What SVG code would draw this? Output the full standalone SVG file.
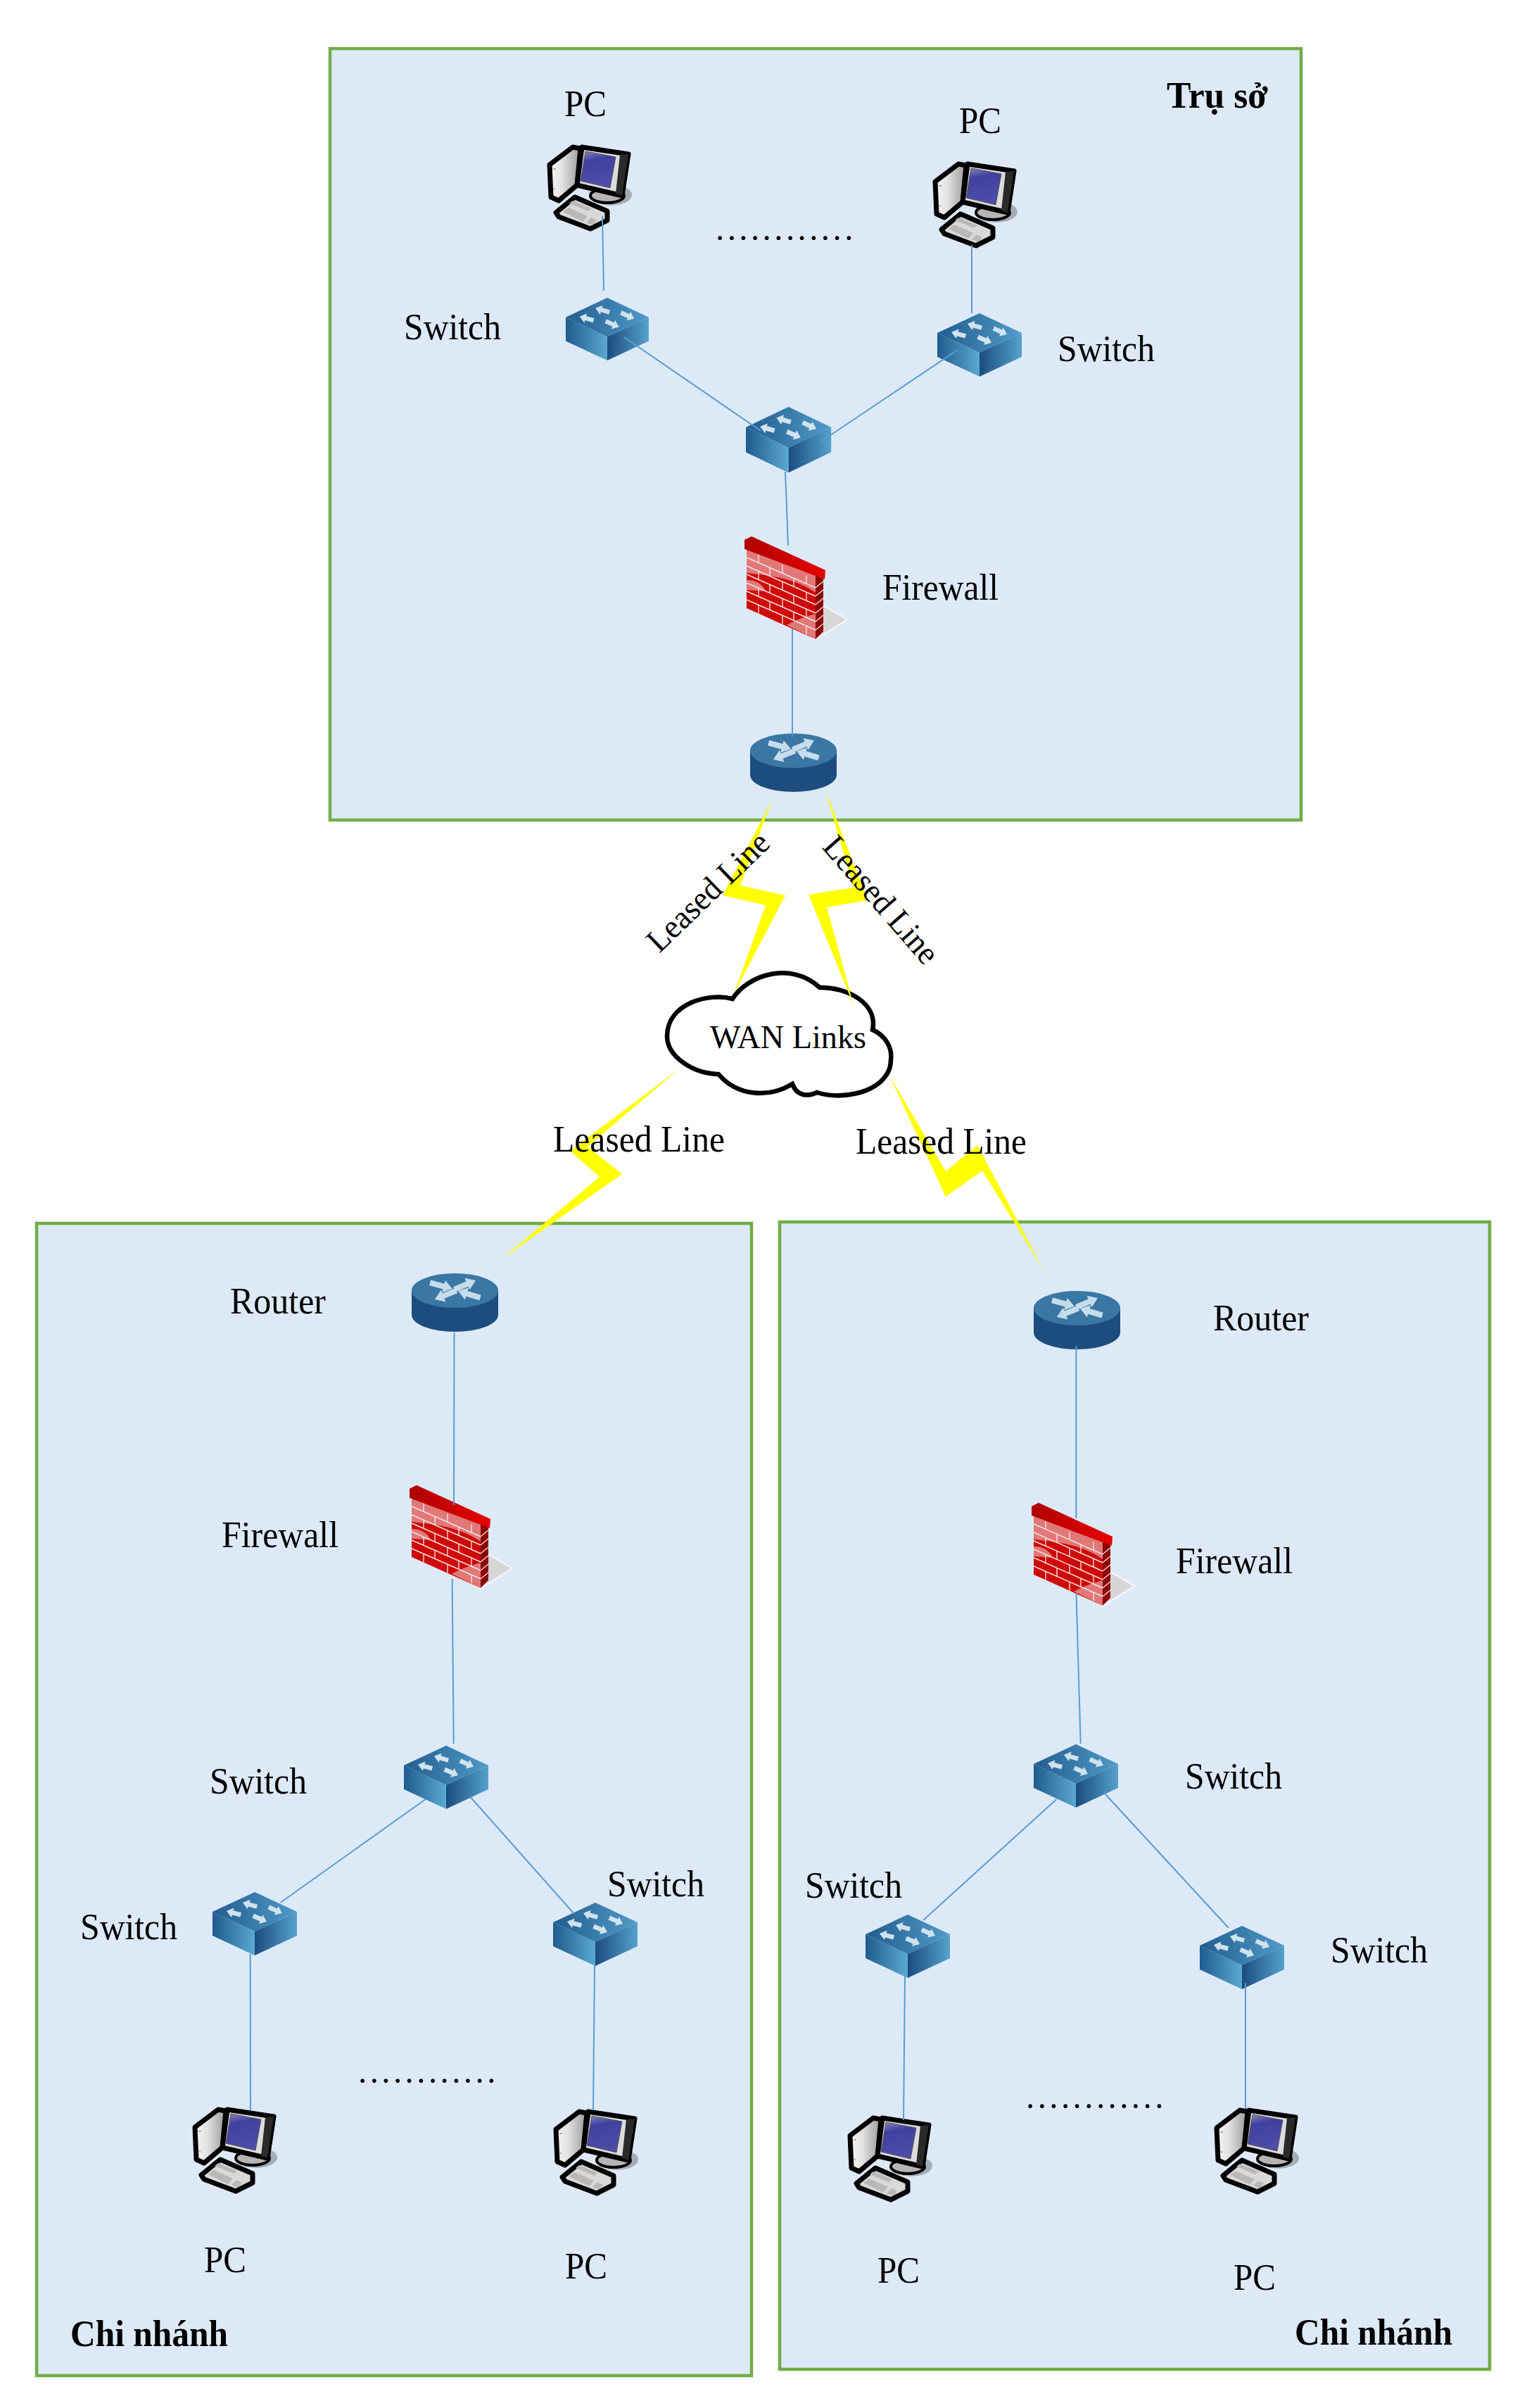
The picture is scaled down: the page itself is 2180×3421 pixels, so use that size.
<svg xmlns="http://www.w3.org/2000/svg" xmlns:xlink="http://www.w3.org/1999/xlink" width="2180" height="3421" viewBox="0 0 2180 3421">
<style>
.site{fill:#dde9f6;stroke:#70ad47;stroke-width:4.5}
.lan{stroke:#5b9bd5;stroke-width:2;fill:none}
.bolt{fill:#ffff00;stroke:none}
.t{font-family:"Liberation Serif","Times New Roman",serif;font-size:52px;fill:#000}
.b{font-weight:bold}
.r{font-size:47px}
.dots{font-size:49px;letter-spacing:4.4px}
</style>
<defs>
<linearGradient id="swTop" x1="0" y1="0" x2="1" y2="0"><stop offset="0" stop-color="#235d8f"/><stop offset="1" stop-color="#4f9ac8"/></linearGradient>
<linearGradient id="swL" x1="0" y1="0" x2="1" y2="0"><stop offset="0" stop-color="#1f5c8f"/><stop offset="1" stop-color="#5ba8d0"/></linearGradient>
<linearGradient id="swR" x1="0" y1="0" x2="1" y2="0"><stop offset="0" stop-color="#1b4c80"/><stop offset="1" stop-color="#55a2cc"/></linearGradient>
<linearGradient id="capG" x1="0" y1="0" x2="1" y2="0"><stop offset="0" stop-color="#b00000"/><stop offset="1" stop-color="#e60000"/></linearGradient>
<linearGradient id="towG" x1="0" y1="0" x2="1" y2="0"><stop offset="0" stop-color="#f6f6f6"/><stop offset="0.4" stop-color="#e2e2e2"/><stop offset="1" stop-color="#989898"/></linearGradient>
<linearGradient id="scrG" x1="0" y1="0" x2="0.2" y2="1"><stop offset="0" stop-color="#8a8ab8"/><stop offset="0.3" stop-color="#4040a0"/><stop offset="1" stop-color="#4d4da8"/></linearGradient>
<path id="arS" d="M0 0L9-7V-3.2H21V3.2H9V7Z" fill="#cfe2ee"/>
<path id="arR" d="M0 0L13-9V-4H33V4H13V9Z" fill="#c5dcec"/>
<g id="switch">
<polygon points="60,0 120,28 60,56 0,28" fill="url(#swTop)"/>
<polygon points="0,28 60,56 60,90 0,62" fill="url(#swL)"/>
<polygon points="60,56 120,28 120,62 60,90" fill="url(#swR)"/>
<use href="#arS" transform="translate(43,15) rotate(16)"/>
<use href="#arS" transform="translate(99,30) rotate(204)"/>
<use href="#arS" transform="translate(20,27) rotate(15)"/>
<use href="#arS" transform="translate(77,42) rotate(203)"/>
</g>
<g id="router">
<path d="M0 24V59A61.5 24 0 0 0 123 59V24Z" fill="#1c4d7e"/>
<ellipse cx="61.5" cy="24.5" rx="61.5" ry="24.5" fill="#3a77a3"/>
<use href="#arR" transform="translate(58,22) rotate(195)"/>
<use href="#arR" transform="translate(91,10) rotate(157)"/>
<use href="#arR" transform="translate(33,37) rotate(-22)"/>
<use href="#arR" transform="translate(66,25) rotate(17)"/>
</g>
<g id="firewall">
<polygon points="112,98 146,118 101,147 90,140" fill="#d6d6d6" stroke="#f4f6f8" stroke-width="2.5" stroke-linejoin="round"/>
<polygon points="3,18 101,56 101,146 3,102" fill="#cf0808"/>
<path d="M3 18L101 56V80C72 60 40 56 3 52ZM3 62C16 62 26 68 30 78L3 76ZM60 126C74 118 88 114 101 110V146Z" fill="#e07878"/>
<polygon points="101,56 112,56 112,135 101,146" fill="#8c0000"/>
<g stroke="#f6e0e0" stroke-width="1.4" fill="none">
<path d="M3 30L101 73M3 42L101 85M3 54L101 97M3 66L101 109M3 78L101 121M3 90L101 133"/>
<path d="M101 73L112 64M101 85L112 76M101 97L112 88M101 109L112 100M101 121L112 112M101 133L112 124"/>
<path d="M20 25.5V37.5M54 40.4V52.4M88 55.4V67.4M36 44.5V56.5M70 59.5V71.5M20 49.5V61.5M54 64.4V76.4M88 79.4V91.4M36 68.5V80.5M70 83.5V95.5M20 73.5V85.5M54 88.4V100.4M88 103.4V115.4M36 92.5V104.5M70 107.5V119.5M20 97.5V109.5M54 112.4V124.4M88 127.4V139.4"/>
</g>
<polygon points="0,5 10,0 115,48 114,61 0,18" fill="url(#capG)"/>
</g>
<g id="pc">
<ellipse cx="90" cy="72" rx="30" ry="15" fill="#a3adb8"/>
<ellipse cx="85" cy="73" rx="24" ry="10" fill="#b5b5b5" stroke="#000" stroke-width="4"/>
<polygon points="3,29 36,4 47,6 42,58 16,80 5,75" fill="url(#towG)" stroke="#000" stroke-width="7" stroke-linejoin="round"/>
<polygon points="49,4 115,14 106,73 42,58" fill="#dcdcdc" stroke="#000" stroke-width="7" stroke-linejoin="round"/>
<polygon points="103,15 115,14 106,73 97,70" fill="#2a2a2a"/>
<polygon points="54,10 97,18 89,62 47,52" fill="url(#scrG)" stroke="#555" stroke-width="1"/>
<polygon points="12,97 39,75 85,95 85,108 61,120 16,103" fill="#d9d9d9" stroke="#000" stroke-width="7" stroke-linejoin="round"/>
<polygon points="36,80 63,91 58,95 31,84" fill="#b8b8b8"/>
<polygon points="22,96 30,90 57,102 50,110" fill="#b8b8b8"/>
<polygon points="55,111 62,104 70,108 64,115" fill="#b8b8b8"/>
<ellipse cx="10" cy="35" rx="2" ry="1" fill="#999"/>
<circle cx="10" cy="63" r="1.3" fill="#aaa"/>
</g>
</defs>
<rect width="2180" height="3421" fill="#fff"/>
<g id="sites">
<rect id="site-hq" class="site" x="469" y="69" width="1380" height="1096"/>
<rect id="site-branch-left" class="site" x="52" y="1738" width="1016" height="1637"/>
<rect id="site-branch-right" class="site" x="1108" y="1736" width="1009" height="1630"/>
</g>
<g id="nodes">
<g id="hq-pc1"><use href="#pc" transform="translate(778,205)"/></g>
<g id="hq-pc2"><use href="#pc" transform="translate(1326,229)"/></g>
<g id="hq-sw1"><use href="#switch" transform="translate(804,423) scale(.983,.99)"/></g>
<g id="hq-sw2"><use href="#switch" transform="translate(1060,578) scale(1.01,1.04)"/></g>
<g id="hq-sw3"><use href="#switch" transform="translate(1332,445)"/></g>
<g id="hq-fw"><use href="#firewall" transform="translate(1058,762)"/></g>
<g id="hq-router"><use href="#router" transform="translate(1066,1042)"/></g>
<g id="wan-cloud">
<path d="M1041 1419C1063 1385 1123 1365 1165 1403C1203 1402 1248 1425 1240 1463C1260 1472 1268 1490 1266 1505C1266 1512 1264 1520 1261 1525C1243 1555 1193 1562 1161 1552C1148 1558 1133 1558 1126 1540C1093 1560 1048 1558 1021 1526C983 1525 948 1500 948 1472C948 1425 1008 1410 1041 1419Z" fill="#fff" stroke="#000" stroke-width="6.5"/>
<text class="t r" x="1009" y="1489" textLength="222" lengthAdjust="spacingAndGlyphs">WAN Links</text>
</g>
<g id="bl-router"><use href="#router" transform="translate(585,1809)"/></g>
<g id="bl-fw"><use href="#firewall" transform="translate(582,2110)"/></g>
<g id="bl-sw1"><use href="#switch" transform="translate(574,2480)"/></g>
<g id="bl-sw2"><use href="#switch" transform="translate(302,2688)"/></g>
<g id="bl-sw3"><use href="#switch" transform="translate(786,2703)"/></g>
<g id="bl-pc1"><use href="#pc" transform="translate(274,2993)"/></g>
<g id="bl-pc2"><use href="#pc" transform="translate(787,2996)"/></g>
<g id="br-router"><use href="#router" transform="translate(1469,1834)"/></g>
<g id="br-fw"><use href="#firewall" transform="translate(1466,2135)"/></g>
<g id="br-sw1"><use href="#switch" transform="translate(1469,2478)"/></g>
<g id="br-sw2"><use href="#switch" transform="translate(1230,2720)"/></g>
<g id="br-sw3"><use href="#switch" transform="translate(1705,2736)"/></g>
<g id="br-pc1"><use href="#pc" transform="translate(1205,3005)"/></g>
<g id="br-pc2"><use href="#pc" transform="translate(1726,2994)"/></g>
</g>
<g id="connectors">
<path class="lan" d="M856 307L858 413"/>
<path class="lan" d="M887 479L1081 612"/>
<path class="lan" d="M1167 627L1361 497"/>
<path class="lan" d="M1381 348V445"/>
<path class="lan" d="M1116 670L1120 775"/>
<path class="lan" d="M1126 893V1045"/>
<path class="lan" d="M645.5 1893L645 2138"/>
<path class="lan" d="M642.6 2243L644.7 2477"/>
<path class="lan" d="M605 2556L398.5 2703"/>
<path class="lan" d="M668.5 2553L816 2719"/>
<path class="lan" d="M355.7 2776L356 2998"/>
<path class="lan" d="M845 2792L843 2998"/>
<path class="lan" d="M1529.4 1912V2157"/>
<path class="lan" d="M1529.4 2263L1535.7 2477"/>
<path class="lan" d="M1501.6 2556L1312 2728"/>
<path class="lan" d="M1569 2547L1746 2739"/>
<path class="lan" d="M1286 2808L1284 3012"/>
<path class="lan" d="M1770 2817V2996"/>
<polygon class="bolt" points="1097,1137 1027,1272 1088,1286 1043,1412 1116,1272 1052,1258"/>
<polygon class="bolt" points="1173,1123 1233,1279 1175,1289 1213,1428 1149,1271 1213,1261"/>
<polygon class="bolt" points="966,1518 810,1635 852,1672 715,1787 884,1668 835,1629"/>
<polygon class="bolt" points="1264,1528 1344,1700 1396,1663 1483,1804 1389,1627 1344,1664"/>
</g>
<g id="labels">
<text class="t" x="802" y="165" textLength="60" lengthAdjust="spacingAndGlyphs">PC</text>
<text class="t" x="1363" y="189" textLength="60" lengthAdjust="spacingAndGlyphs">PC</text>
<text class="t b" x="1658" y="153" textLength="144" lengthAdjust="spacingAndGlyphs">Trụ sở</text>
<text class="t" x="574" y="482" textLength="138" lengthAdjust="spacingAndGlyphs">Switch</text>
<text class="t" x="1503" y="513" textLength="138" lengthAdjust="spacingAndGlyphs">Switch</text>
<text class="t" x="1254" y="852" textLength="165" lengthAdjust="spacingAndGlyphs">Firewall</text>
<text class="t dots" x="1017" y="341">............</text>
<text class="t r" transform="translate(937,1355) rotate(-44)" textLength="222" lengthAdjust="spacingAndGlyphs">Leased Line</text>
<text class="t r" transform="translate(1167,1204) rotate(49)" textLength="224" lengthAdjust="spacingAndGlyphs">Leased Line</text>
<text class="t" x="786" y="1636" textLength="244" lengthAdjust="spacingAndGlyphs">Leased Line</text>
<text class="t" x="1216" y="1639" textLength="243" lengthAdjust="spacingAndGlyphs">Leased Line</text>
<text class="t" x="327" y="1866" textLength="136" lengthAdjust="spacingAndGlyphs">Router</text>
<text class="t" x="315" y="2198" textLength="166" lengthAdjust="spacingAndGlyphs">Firewall</text>
<text class="t" x="298" y="2548" textLength="138" lengthAdjust="spacingAndGlyphs">Switch</text>
<text class="t" x="114" y="2755" textLength="138" lengthAdjust="spacingAndGlyphs">Switch</text>
<text class="t" x="863" y="2694" textLength="138" lengthAdjust="spacingAndGlyphs">Switch</text>
<text class="t dots" x="509" y="2959">............</text>
<text class="t" x="290" y="3228" textLength="60" lengthAdjust="spacingAndGlyphs">PC</text>
<text class="t" x="803" y="3237" textLength="60" lengthAdjust="spacingAndGlyphs">PC</text>
<text class="t b" x="100" y="3333" textLength="224" lengthAdjust="spacingAndGlyphs">Chi nhánh</text>
<text class="t" x="1724" y="1890" textLength="136" lengthAdjust="spacingAndGlyphs">Router</text>
<text class="t" x="1671" y="2235" textLength="166" lengthAdjust="spacingAndGlyphs">Firewall</text>
<text class="t" x="1684" y="2541" textLength="138" lengthAdjust="spacingAndGlyphs">Switch</text>
<text class="t" x="1144" y="2696" textLength="138" lengthAdjust="spacingAndGlyphs">Switch</text>
<text class="t" x="1891" y="2788" textLength="138" lengthAdjust="spacingAndGlyphs">Switch</text>
<text class="t dots" x="1458" y="2995">............</text>
<text class="t" x="1247" y="3243" textLength="60" lengthAdjust="spacingAndGlyphs">PC</text>
<text class="t" x="1753" y="3253" textLength="60" lengthAdjust="spacingAndGlyphs">PC</text>
<text class="t b" x="1840" y="3331" textLength="224" lengthAdjust="spacingAndGlyphs">Chi nhánh</text>
</g>
</svg>
